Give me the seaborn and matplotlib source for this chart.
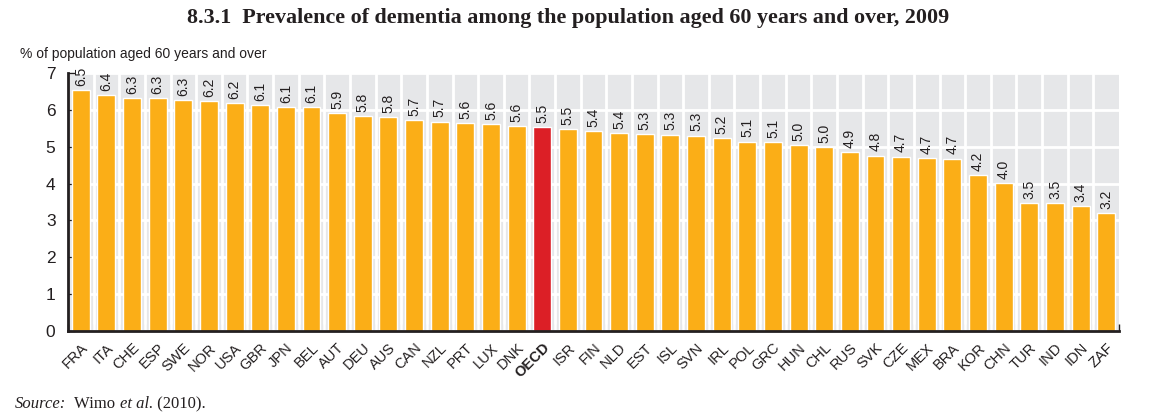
import matplotlib
matplotlib.use("Agg")
import matplotlib.pyplot as plt
import seaborn as sns
import numpy as np
import pandas as pd

countries = ["FRA", "ITA", "CHE", "ESP", "SWE", "NOR", "USA", "GBR", "JPN", "BEL",
             "AUT", "DEU", "AUS", "CAN", "NZL", "PRT", "LUX", "DNK", "OECD", "ISR",
             "FIN", "NLD", "EST", "ISL", "SVN", "IRL", "POL", "GRC", "HUN", "CHL",
             "RUS", "SVK", "CZE", "MEX", "BRA", "KOR", "CHN", "TUR", "IND", "IDN", "ZAF"]
values = [6.54, 6.40, 6.32, 6.32, 6.27, 6.24, 6.19, 6.13, 6.08, 6.07,
          5.92, 5.84, 5.81, 5.73, 5.68, 5.64, 5.62, 5.56, 5.53, 5.48,
          5.43, 5.38, 5.34, 5.33, 5.30, 5.24, 5.14, 5.13, 5.04, 5.00,
          4.86, 4.76, 4.73, 4.70, 4.68, 4.24, 4.02, 3.46, 3.46, 3.40, 3.20]
highlight = "OECD"

title = "8.3.1  Prevalence of dementia among the population aged 60 years and over, 2009"
ylabel = "% of population aged 60 years and over"

BAR = "#fbae17"
RED = "#dc1f26"
BG = "#e6e7e9"
DARK = "#231f20"
SANS = ['Liberation Sans Narrow', 'Liberation Sans', 'DejaVu Sans']

sns.set_theme(style="white")
plt.rcParams['font.family'] = SANS

df = pd.DataFrame({"country": countries, "value": values,
                   "grp": ["h" if c == highlight else "n" for c in countries]})

fig = plt.figure(figsize=(11.51, 4.15), dpi=100)
ax = fig.add_axes([68 / 1151, 1 - 331 / 415, (1119 - 68) / 1151, (331 - 73) / 415])
ax.set_facecolor(BG)

sns.barplot(data=df, x="country", y="value", hue="grp", palette={"n": BAR, "h": RED},
            width=0.7, dodge=False, legend=False, ax=ax, saturation=1, zorder=3)

n = len(countries)
ax.set_xlim(-0.5, n - 0.5)
ax.set_ylim(0, 7)
ax.set_yticks(range(0, 8))
ax.yaxis.grid(True, color="white", linewidth=2, zorder=1)
ax.set_axisbelow(True)
for b in np.arange(0.5, n - 0.5, 1):
    ax.axvline(b, color="white", linewidth=2, zorder=1)

# boundary ticks at bottom
ax.set_xticks(np.arange(-0.5, n, 1), minor=True)
ax.tick_params(axis="x", which="minor", direction="in", length=5, width=1, color=DARK, bottom=True)
ax.tick_params(axis="x", which="major", length=0, pad=7)
ax.tick_params(axis="y", direction="in", length=5, width=1, color=DARK, left=True, labelsize=12.5, pad=9)
ax.set_xticks(range(n))
ax.set_xticklabels(countries, rotation=45, ha="right", rotation_mode="anchor", fontsize=10.5)
for lab in ax.get_xticklabels():
    lab.set_color(DARK)
    if lab.get_text() == highlight:
        lab.set_fontweight("bold")
for lab in ax.get_yticklabels():
    lab.set_color(DARK)
ax.set_xlabel("")
ax.set_ylabel("")

for s in ["top", "right"]:
    ax.spines[s].set_visible(False)
for s in ["left", "bottom"]:
    ax.spines[s].set_color(DARK)
    ax.spines[s].set_linewidth(2)
    ax.spines[s].set_zorder(5)

for cont in ax.containers:
    ax.bar_label(cont, fmt="%.1f", rotation=90, padding=3, fontsize=10, color=DARK, family=SANS)

fig.text(568 / 1151, 1 - 18 / 415, title, ha="center", va="center", fontsize=15.8,
         fontweight="bold", family=["Liberation Serif"], color=DARK)
fig.text(20 / 1151, 1 - 54 / 415, ylabel, ha="left", va="center", fontsize=10, color=DARK)

# source line
fig.canvas.draw()
r = fig.canvas.get_renderer()
parts = [("Source:", "italic"), ("  Wimo ", "normal"), ("et al.", "italic"), (" (2010).", "normal")]
x = 15
for txt, st in parts:
    t = fig.text(x / 1151, 1 - 404 / 415, txt, ha="left", va="center", fontsize=12,
                 family=["Liberation Serif"], style=st, color=DARK)
    bb = t.get_window_extent(renderer=r)
    x += bb.width

fig.savefig("out.png", dpi=100)
